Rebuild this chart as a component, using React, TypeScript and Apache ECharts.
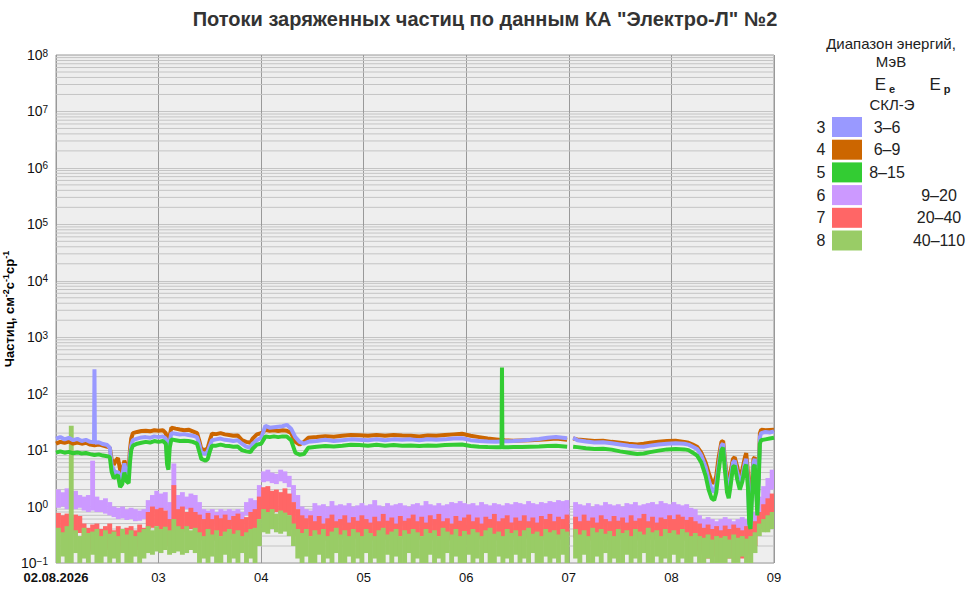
import { useEffect, useRef } from 'react';
import * as echarts from 'echarts';

const chartTitle = 'Потоки заряженных частиц по данным КА "Электро-Л" №2';
const yAxisTitle = 'Частиц, см{s|-2}с{s|-1}ср{s|-1}';
const dayLabels = ['02.08.2026', '03', '04', '05', '06', '07', '08', '09'];

const channelNums = ['3', '4', '5', '6', '7', '8'];
const channelColors = ['#9999ff', '#cc6600', '#33cc33', '#cc99ff', '#ff6666', '#99cc66'];
const electronRanges = ['3–6', '6–9', '8–15'];
const protonRanges = ['9–20', '20–40', '40–110'];

// electrons: [hours since 02.08 00:00, flux]
const e3Flux = [
  [0, 16], [1, 17], [2, 15.5], [3, 16.5], [4, 15], [5, 15.8], [6, 14.5], [7, 15.2], [8, 14], [8.9, 13.8], [9, 270], [9.1, 13.5],
  [10, 13.8], [11, 12.8], [12, 12.3], [12.6, 11], [13, 5.5], [13.5, 4.5], [14, 3.8], [14.5, 4.2], [15, 3], [15.5, 3.5], [16, 5.8],
  [16.5, 3.8], [17, 3.2], [17.3, 8], [17.6, 12], [18, 15], [19, 16], [20, 16.8], [21, 17], [22, 16.5], [23, 17.5], [24, 17], [25, 17.5],
  [25.7, 16], [26, 7], [26.3, 6], [26.6, 14], [27, 20], [28, 19.5], [29, 18.8], [30, 19.2], [31, 18.5], [32, 18], [33, 17], [33.6, 12],
  [34, 9], [35, 8.5], [35.5, 9.5], [36, 12], [36.5, 15], [37.5, 15.5], [38.5, 16], [39.5, 15.2], [40.5, 15], [41.5, 14.5], [42.5, 15],
  [43.5, 13], [44.5, 11.5], [45.5, 11], [46, 13], [47, 15], [48, 16.5], [48.5, 21], [49, 27], [50, 25], [51, 25.5], [52, 26], [53, 26.5],
  [54, 28], [55, 24], [56, 17], [57, 14], [58, 13], [59, 14], [61, 14.5], [63, 15.2], [65, 14.5], [67, 15], [69, 15.5], [71, 15.3],
  [73, 15], [75, 15.6], [77, 15], [79, 15.5], [81, 15.2], [83, 15.5], [85, 15], [87, 15.6], [89, 15.2], [91, 15.5], [93, 16], [95, 16.2],
  [97, 15], [99, 14.5], [101, 14.2], [103, 14], [105, 14.3], [107, 14.5], [109, 14.8], [111, 15.2], [113, 15.8], [115, 16.5], [117, 17],
  [119.6, 16.2], [120.2, '-'], [121, 16.5], [122, 15], [124, 14.2], [126, 13.6], [128, 13.8], [130, 13.2], [132, 12.6], [134, 12],
  [136, 11.6], [137.5, 11.5], [139, 12], [141, 12.6], [143, 13], [145, 13.2], [147, 13], [148, 12.5], [149, 11.5], [150, 10.5], [151, 8],
  [152, 5], [152.7, 3], [153.4, 2], [154, 1.8], [154.5, 2.5], [155, 5], [155.7, 12], [156.1, 13], [156.5, 6], [157, 2.5], [157.4, 1.7],
  [157.8, 3], [158.4, 6], [158.8, 6.5], [159.4, 4], [160, 2.6], [160.6, 3.5], [161.2, 6], [161.5, 7], [161.9, 3], [162.2, 0.6],
  [162.5, 0.45], [162.8, 1.5], [163.2, 6], [163.5, 7], [163.8, 2.5], [164.1, 0.9], [164.4, 3], [164.7, 17], [165, 20], [166, 21],
  [167, 20.5], [168, 21.5],
];

const e4Flux = [
  [0, 13], [1, 14], [2, 13.5], [3, 14.2], [4, 13], [5, 13.6], [6, 13], [7, 13.5], [8, 12.5], [9, 12.2], [10, 12.6], [11, 12], [12, 11.5],
  [12.6, 11], [13, 7], [13.5, 5.5], [14, 6.5], [14.5, 7.2], [15, 4.5], [15.5, 4], [16, 6.5], [16.5, 5], [17, 4.5], [17.3, 10], [17.6, 16],
  [18, 20], [19, 21], [20, 21.8], [21, 22], [22, 21.5], [23, 22.5], [24, 22], [25, 22.5], [25.7, 20], [26, 10], [26.3, 8], [26.6, 18],
  [27, 25], [28, 24], [29, 23.2], [30, 22.5], [31, 23], [32, 21.5], [33, 20], [33.6, 14], [34, 10.5], [35, 10], [35.5, 11], [36, 15],
  [36.5, 19.5], [37.5, 19.2], [38.5, 20], [39.5, 19], [40.5, 18.5], [41.5, 18], [42.5, 18.2], [43.5, 15], [44.5, 14], [45.5, 13.5],
  [46, 16], [47, 19], [48, 20], [48.5, 21], [49, 23], [50, 22], [51, 22.5], [52, 21.8], [53, 22.5], [54, 22], [55, 20], [56, 14],
  [57, 12.5], [58, 14], [59, 16.5], [61, 17], [63, 17.6], [65, 17.3], [67, 18], [69, 18.5], [71, 18.3], [73, 18], [75, 18.6], [77, 18],
  [79, 18.5], [81, 18.2], [83, 18], [85, 17.5], [87, 18.2], [89, 18], [91, 18.5], [93, 19], [95, 19.5], [97, 18], [99, 17], [101, 16],
  [103, 15.5], [105, 15], [107, 14.6], [109, 14.8], [111, 15], [113, 15.2], [115, 15.6], [117, 16], [119.6, 15.2], [120.2, '-'],
  [121, 16], [122, 15.5], [124, 15], [126, 14.5], [128, 14.6], [130, 14], [132, 13.5], [134, 13], [136, 12.6], [137.5, 13], [139, 13.5],
  [141, 14], [143, 14.5], [145, 14.6], [147, 14], [148, 13.5], [149, 12.5], [150, 11.5], [151, 9], [152, 6], [152.7, 4], [153.4, 2.8],
  [154, 2.6], [154.5, 3.5], [155, 7], [155.7, 14], [156.1, 14.5], [156.5, 7], [157, 3.2], [157.4, 2.4], [157.8, 4], [158.4, 7],
  [158.8, 7.5], [159.4, 5], [160, 3.2], [160.6, 4.5], [161.2, 7.5], [161.5, 8.8], [161.9, 4], [162.2, 1.2], [162.5, 0.9], [162.8, 2.5],
  [163.2, 7], [163.5, 7.5], [163.8, 3.5], [164.1, 1.3], [164.4, 4], [164.7, 20], [165, 23], [166, 22.5], [167, 22.8], [168, 23],
];

const e5Flux = [
  [0, 9], [1, 9.5], [2, 9], [3, 9.3], [4, 8.8], [5, 9.1], [6, 8.7], [7, 8.9], [8, 8.5], [9, 8.2], [10, 8.4], [11, 8], [12, 7.8],
  [12.6, 7.5], [13, 4.2], [13.5, 3.2], [14, 3.4], [14.5, 3.6], [15, 2.2], [15.5, 2.5], [16, 4], [16.5, 2.8], [17, 2.6], [17.3, 6],
  [17.6, 10], [18, 12], [19, 13], [20, 13.5], [21, 14], [22, 13.6], [23, 14.5], [24, 14], [25, 14.5], [25.7, 13], [26, 5.5], [26.3, 4.5],
  [26.6, 11], [27, 15.5], [28, 15], [29, 14.5], [30, 14.6], [31, 14.5], [32, 14], [33, 13], [33.6, 9], [34, 7], [35, 6.5], [35.5, 7],
  [36, 9.5], [36.5, 12], [37.5, 12], [38.5, 12.5], [39.5, 12], [40.5, 11.8], [41.5, 11.5], [42.5, 11.6], [43.5, 10], [44.5, 9.5],
  [45.5, 9.2], [46, 10.5], [47, 12.5], [48, 13], [48.5, 15], [49, 17.5], [50, 17], [51, 17.5], [52, 17], [53, 17.5], [54, 17.5], [55, 15],
  [56, 9], [57, 8.3], [58, 8.5], [59, 11], [61, 11.5], [63, 11.8], [65, 11.6], [67, 12], [69, 12.5], [71, 12.3], [73, 12], [75, 12.4],
  [77, 12], [79, 12.3], [81, 12], [83, 12.1], [85, 11.8], [87, 12.1], [89, 12], [91, 12.3], [93, 12.5], [95, 12.6], [97, 11.8],
  [99, 11.5], [101, 11.3], [103, 11.2], [104.25, 11.2], [104.35, 290], [104.45, 11.2], [105, 11.2], [107, 11.3], [109, 11.4],
  [111, 11.5], [113, 11.6], [115, 11.8], [117, 12], [119.6, 11.5], [120.2, '-'], [121, 11.5], [122, 11.3], [124, 10.8], [126, 10.5],
  [128, 10.6], [130, 10.2], [132, 9.5], [134, 9], [136, 8.5], [137.5, 8.7], [139, 9.2], [141, 9.8], [143, 10.3], [145, 10.5], [147, 10.3],
  [148, 10], [149, 9], [150, 8], [151, 6], [152, 3.5], [152.7, 2], [153.4, 1.4], [154, 1.3], [154.5, 1.8], [155, 4], [155.7, 10],
  [156.1, 11], [156.5, 4.5], [157, 1.8], [157.4, 1.4], [157.8, 2.2], [158.4, 5], [158.8, 5.3], [159.4, 3], [160, 2], [160.6, 2.8],
  [161.2, 5], [161.5, 5.5], [161.9, 2.2], [162.2, 0.5], [162.5, 0.4], [162.8, 1.2], [163.2, 5], [163.5, 5.5], [163.8, 2], [164.1, 0.7],
  [164.4, 2.5], [164.7, 13], [165, 15], [166, 15.5], [167, 16], [168, 16.5],
];

// protons: hourly spread (low / high) of the flux, one value per hour 0..167
const p6Lo = [
  0.95, 1.0, 0.9, 1.0, 0.9, 0.95, 0.85, 0.8, 0.85, 0.8, 0.8, 0.75,
  0.7, 0.65, 0.6, 0.62, 0.58, 0.6, 0.55, 0.56, 0.6, 0.7, 0.85, 0.9,
  0.8, 0.85, 0.3, 0.4, 0.85, 0.8, 0.9, 0.8, 0.75, 0.5, 0.5, 0.48,
  0.5, 0.45, 0.5, 0.48, 0.45, 0.47, 0.45, 0.5, 0.7, 0.8, 0.75, 1.4,
  2.7, 2.8, 2.6, 2.5, 2.8, 2.6, 2.2, 1.2, 0.9, 0.6, 0.5, 0.48,
  0.5, 0.47, 0.5, 0.45, 0.5, 0.48, 0.46, 0.5, 0.47, 0.45, 0.5, 0.48,
  0.46, 0.5, 0.48, 0.45, 0.47, 0.5, 0.46, 0.48, 0.5, 0.45, 0.47, 0.5,
  0.48, 0.45, 0.5, 0.47, 0.46, 0.5, 0.48, 0.45, 0.5, 0.47, 0.5, 0.48,
  0.47, 0.5, 0.45, 0.48, 0.5, 0.46, 0.47, 0.5, 0.45, 0.48, 0.47, 0.5,
  0.48, 0.46, 0.5, 0.47, 0.45, 0.5, 0.48, 0.5, 0.47, 0.5, 0.48, 0.5,
  null, 0.5, 0.47, 0.45, 0.5, 0.46, 0.48, 0.45, 0.5, 0.47, 0.45, 0.48,
  0.46, 0.5, 0.47, 0.5, 0.45, 0.48, 0.5, 0.47, 0.46, 0.5, 0.48, 0.45,
  0.5, 0.47, 0.46, 0.5, 0.45, 0.42, 0.35, 0.3, 0.32, 0.28, 0.3, 0.25,
  0.3, 0.28, 0.3, 0.32, 0.3, 0.28, 0.3, 0.35, 0.6, 0.9, 1.3, 2.0,
];
const p6Hi = [
  2.0, 1.8, 2.1, 1.7, 1.9, 1.6, 1.5, 1.6, 6.5, 1.5, 1.3, 1.4,
  1.2, 1.0, 0.95, 1.0, 0.9, 0.95, 0.9, 0.85, 0.9, 1.3, 1.6, 1.9,
  1.7, 1.8, 1.2, 5.8, 1.6, 1.8, 1.5, 1.7, 1.6, 1.2, 0.9, 0.85,
  0.9, 0.8, 0.9, 0.85, 0.9, 0.85, 0.9, 0.8, 1.2, 1.4, 1.3, 2.4,
  4.2, 4.5, 4.0, 3.8, 4.5, 4.2, 3.5, 2.4, 1.6, 1.0, 0.9, 0.85,
  1.15, 1.05, 1.1, 1.0, 1.25, 1.05, 1.1, 1.05, 1.15, 1.0, 1.05, 1.15,
  1.05, 1.1, 1.3, 1.05, 1.0, 1.15, 1.05, 1.1, 1.15, 1.05, 1.0, 1.1,
  1.15, 1.05, 1.25, 1.1, 1.05, 1.15, 1.05, 1.1, 1.2, 1.15, 1.25, 1.15,
  1.1, 1.15, 1.05, 1.2, 1.1, 1.05, 1.15, 1.1, 1.05, 1.15, 1.1, 1.2,
  1.15, 1.1, 1.25, 1.15, 1.1, 1.2, 1.15, 1.25, 1.2, 1.3, 1.25, 1.3,
  null, 1.2, 1.1, 1.05, 1.15, 1.0, 1.1, 1.05, 1.2, 1.1, 1.05, 1.1,
  1.0, 1.15, 1.1, 1.2, 1.05, 1.1, 1.15, 1.2, 1.1, 1.25, 1.15, 1.1,
  1.2, 1.1, 1.05, 1.1, 0.95, 0.9, 0.7, 0.6, 0.65, 0.6, 0.55, 0.6,
  0.65, 0.6, 0.55, 0.6, 0.65, 0.6, 0.7, 0.8, 1.5, 2.3, 3.2, 4.5,
];
const p7Lo = [
  0.35, 0.34, 0.38, 0.33, 0.36, 0.34, 0.2, 0.18, 0.16, 0.2, 0.15, 0.18,
  0.17, 0.15, 0.2, 0.16, 0.18, 0.15, 0.17, 0.2, 0.18, 0.4, 0.42, 0.45,
  0.4, 0.42, 0.2, 0.4, 0.38, 0.4, 0.35, 0.4, 0.37, 0.28, 0.25, 0.3,
  0.27, 0.25, 0.3, 0.28, 0.26, 0.3, 0.27, 0.25, 0.3, 0.28, 0.3, 0.6,
  0.8, 0.78, 0.77, 0.8, 0.75, 0.77, 0.7, 0.4, 0.3, 0.28, 0.27, 0.3,
  0.28, 0.26, 0.3, 0.25, 0.27, 0.3, 0.28, 0.26, 0.25, 0.3, 0.27, 0.28,
  0.3, 0.25, 0.27, 0.28, 0.26, 0.3, 0.25, 0.28, 0.3, 0.27, 0.25, 0.28,
  0.26, 0.3, 0.28, 0.25, 0.27, 0.3, 0.26, 0.28, 0.25, 0.3, 0.27, 0.26,
  0.28, 0.25, 0.3, 0.27, 0.26, 0.28, 0.3, 0.25, 0.27, 0.28, 0.3, 0.26,
  0.25, 0.28, 0.27, 0.3, 0.26, 0.25, 0.28, 0.3, 0.27, 0.26, 0.28, 0.3,
  null, 0.28, 0.26, 0.3, 0.25, 0.27, 0.28, 0.3, 0.26, 0.25, 0.28, 0.27,
  0.3, 0.26, 0.28, 0.25, 0.27, 0.3, 0.28, 0.26, 0.25, 0.28, 0.3, 0.27,
  0.26, 0.28, 0.3, 0.25, 0.24, 0.2, 0.16, 0.14, 0.12, 0.15, 0.13, 0.12,
  0.14, 0.12, 0.15, 0.13, 0.12, 0.14, 0.16, 0.2, 0.4, 0.5, 0.6, 0.7,
];
const p7Hi = [
  0.77, 0.7, 0.75, 0.62, 0.72, 0.68, 0.5, 0.42, 0.48, 0.5, 0.4, 0.45,
  0.5, 0.38, 0.45, 0.36, 0.42, 0.45, 0.38, 0.48, 0.42, 0.8, 1.0, 0.9,
  0.95, 0.85, 0.6, 2.4, 0.9, 1.0, 0.8, 0.95, 0.8, 0.72, 0.6, 0.77,
  0.6, 0.7, 0.62, 0.72, 0.58, 0.68, 0.75, 0.6, 0.65, 0.8, 0.9, 1.5,
  2.2, 2.3, 1.9, 2.0, 1.8, 2.1, 1.7, 1.2, 0.9, 0.7, 0.62, 0.7,
  0.55, 0.68, 0.5, 0.62, 0.72, 0.55, 0.6, 0.7, 0.52, 0.65, 0.56, 0.7,
  0.6, 0.52, 0.66, 0.55, 0.74, 0.56, 0.64, 0.5, 0.68, 0.56, 0.62, 0.72,
  0.55, 0.66, 0.52, 0.7, 0.6, 0.74, 0.55, 0.62, 0.5, 0.68, 0.56, 0.64,
  0.72, 0.55, 0.64, 0.5, 0.66, 0.6, 0.74, 0.55, 0.62, 0.7, 0.52, 0.64,
  0.56, 0.7, 0.55, 0.64, 0.52, 0.68, 0.6, 0.74, 0.55, 0.66, 0.6, 0.72,
  null, 0.66, 0.55, 0.72, 0.56, 0.64, 0.52, 0.7, 0.6, 0.55, 0.68, 0.56,
  0.64, 0.52, 0.7, 0.56, 0.62, 0.74, 0.55, 0.66, 0.52, 0.64, 0.6, 0.7,
  0.6, 0.72, 0.66, 0.58, 0.65, 0.55, 0.5, 0.42, 0.48, 0.4, 0.45, 0.38,
  0.46, 0.4, 0.48, 0.42, 0.38, 0.45, 0.5, 0.55, 0.8, 1.1, 1.4, 1.7,
];
const p8Lo = [
  0.1, 0.13, 0.1, 0.1, 0.15, 0.1, 0.12, 0.1, 0.14, 0.1, 0.1, 0.13,
  0.1, 0.12, 0.1, 0.15, 0.1, 0.1, 0.13, 0.1, 0.12, 0.15, 0.14, 0.16,
  0.15, 0.17, 0.14, 0.15, 0.16, 0.14, 0.15, 0.17, 0.15, 0.1, 0.12, 0.1,
  0.13, 0.1, 0.1, 0.14, 0.1, 0.12, 0.1, 0.15, 0.1, 0.12, 0.1, 0.2,
  0.35, 0.33, 0.4, 0.35, 0.33, 0.36, 0.3, 0.2, 0.12, 0.1, 0.13, 0.1,
  0.1, 0.14, 0.1, 0.12, 0.1, 0.15, 0.1, 0.1, 0.13, 0.1, 0.12, 0.1,
  0.15, 0.1, 0.12, 0.1, 0.1, 0.14, 0.1, 0.13, 0.1, 0.1, 0.15, 0.1,
  0.12, 0.1, 0.1, 0.14, 0.1, 0.12, 0.1, 0.15, 0.1, 0.13, 0.1, 0.1,
  0.14, 0.1, 0.12, 0.1, 0.15, 0.1, 0.1, 0.13, 0.1, 0.12, 0.1, 0.14,
  0.1, 0.12, 0.1, 0.15, 0.1, 0.1, 0.13, 0.1, 0.12, 0.1, 0.14, 0.1,
  null, 0.12, 0.1, 0.14, 0.1, 0.1, 0.13, 0.1, 0.15, 0.1, 0.12, 0.1,
  0.1, 0.14, 0.1, 0.12, 0.1, 0.15, 0.1, 0.1, 0.13, 0.1, 0.12, 0.1,
  0.14, 0.1, 0.12, 0.1, 0.1, 0.13, 0.1, 0.1, 0.12, 0.1, 0.1, 0.1,
  0.1, 0.12, 0.1, 0.1, 0.13, 0.1, 0.1, 0.15, 0.3, 0.35, 0.35, 0.4,
];
const p8Hi = [
  0.42, 0.35, 0.45, 27, 0.38, 0.3, 0.42, 0.34, 0.36, 0.4, 0.3, 0.38,
  0.33, 0.36, 0.3, 0.4, 0.32, 0.38, 0.3, 0.35, 0.4, 0.45, 0.38, 0.45,
  0.4, 0.44, 0.38, 0.6, 0.45, 0.4, 0.45, 0.38, 0.42, 0.35, 0.3, 0.4,
  0.32, 0.38, 0.3, 0.36, 0.4, 0.33, 0.38, 0.3, 0.35, 0.4, 0.42, 0.6,
  0.9, 0.8, 0.9, 0.75, 0.85, 0.78, 0.7, 0.5, 0.4, 0.34, 0.4, 0.3,
  0.38, 0.32, 0.4, 0.3, 0.36, 0.42, 0.32, 0.38, 0.3, 0.4, 0.35, 0.3,
  0.4, 0.34, 0.3, 0.38, 0.42, 0.32, 0.36, 0.4, 0.3, 0.38, 0.33, 0.4,
  0.35, 0.3, 0.4, 0.34, 0.38, 0.3, 0.42, 0.36, 0.32, 0.4, 0.3, 0.37,
  0.32, 0.4, 0.35, 0.3, 0.38, 0.42, 0.33, 0.36, 0.3, 0.4, 0.34, 0.38,
  0.3, 0.38, 0.42, 0.33, 0.36, 0.3, 0.4, 0.35, 0.38, 0.32, 0.4, 0.36,
  null, 0.4, 0.32, 0.38, 0.3, 0.42, 0.35, 0.4, 0.33, 0.37, 0.3, 0.4,
  0.34, 0.38, 0.3, 0.4, 0.36, 0.32, 0.42, 0.35, 0.38, 0.3, 0.4, 0.34,
  0.38, 0.32, 0.4, 0.35, 0.3, 0.34, 0.3, 0.28, 0.32, 0.26, 0.3, 0.28,
  0.3, 0.26, 0.32, 0.28, 0.3, 0.27, 0.3, 0.35, 0.5, 0.6, 0.7, 0.8,
];

const FONT = '"Liberation Sans", Arial, sans-serif';

const toBand = (lo: (number | null)[], hi: (number | null)[]) =>
  lo.map((v, i) => [i, v, hi[i]]).filter((d) => d[1] != null && d[2] != null);

// gray minor lines at 2..9 of every decade
const minorLevels: number[][] = [];
for (let d = -1; d < 8; d++) {
  for (let m = 2; m <= 9; m++) minorLevels.push([0, m * Math.pow(10, d)]);
}

const bandSeries = (name: string, color: string, lo: any[], hi: any[]) => ({
  name,
  type: 'custom',
  data: toBand(lo, hi),
  encode: { x: 0, y: [1, 2] },
  silent: true,
  renderItem: (params: any, api: any) => {
    const t = api.value(0);
    const top = api.coord([t, api.value(2)]);
    const bot = api.coord([t + 1, api.value(1)]);
    const cs = params.coordSys;
    const shape = echarts.graphic.clipRectByRect(
      { x: top[0], y: top[1], width: bot[0] - top[0] + 0.6, height: bot[1] - top[1] },
      { x: cs.x, y: cs.y, width: cs.width, height: cs.height }
    );
    if (!shape) return null;
    return { type: 'rect', shape, style: { fill: color } };
  },
});

const lineSeries = (name: string, color: string, data: any[]) => ({
  name,
  type: 'line',
  data,
  symbol: 'none',
  connectNulls: false,
  silent: true,
  lineStyle: { color, width: 4 },
});

const legendGraphic = () => {
  const txt = (x: number, y: number, text: string, extra: any = {}) => ({
    type: 'text',
    x,
    y,
    silent: true,
    style: {
      text,
      x: 0,
      y: 0,
      font: `15px ${FONT}`,
      fill: '#222',
      align: 'center',
      verticalAlign: 'middle',
      textAlign: 'center',
      textVerticalAlign: 'middle',
      ...extra,
    },
  });
  const sub = {
    rich: {
      m: { fontSize: 17, fontFamily: FONT, fill: '#222', color: '#222' },
      sb: { fontSize: 11, fontWeight: 'bold', fontFamily: FONT, fill: '#222', color: '#222', padding: [9, 0, 0, 3] },
    },
  };
  const els: any[] = [
    txt(891, 43, 'Диапазон энергий,'),
    txt(891, 61, 'МэВ'),
    txt(885, 84, '{m|E}{sb|e}', sub),
    txt(940, 84, '{m|E}{sb|p}', sub),
    txt(892, 104, 'СКЛ-Э'),
  ];
  channelNums.forEach((n, i) => {
    const y = 127 + i * 22.7;
    els.push(txt(821, y, n, { font: `16px ${FONT}` }));
    els.push({
      type: 'rect',
      silent: true,
      shape: { x: 832, y: y - 10, width: 30, height: 20 },
      style: { fill: channelColors[i] },
    });
    const label = i < 3 ? electronRanges[i] : protonRanges[i - 3];
    els.push(txt(i < 3 ? 887 : 939, y, label, { font: `16px ${FONT}` }));
  });
  return els;
};

const App = () => {
  const chartRef = useRef<HTMLDivElement>(null);

  useEffect(() => {
    if (!chartRef.current) return;
    const chart = echarts.init(chartRef.current, null, { renderer: 'svg' });

    const option = {
      animation: false,
      backgroundColor: '#ffffff',
      textStyle: { fontFamily: FONT },
      title: {
        text: chartTitle,
        left: 'center',
        top: 4,
        textStyle: { fontSize: 20, fontWeight: 'bold', color: '#333', fontFamily: FONT },
      },
      grid: {
        left: 56,
        right: 196,
        top: 55,
        bottom: 37,
        containLabel: false,
        outerBoundsMode: 'none',
        show: true,
        backgroundColor: '#eeeeee',
        borderColor: '#999',
        borderWidth: 1,
      },
      xAxis: {
        type: 'value',
        min: 0,
        max: 168,
        interval: 24,
        axisLine: { show: false },
        axisTick: { show: false },
        splitLine: { show: true, lineStyle: { color: '#999', width: 1 } },
        axisLabel: {
          color: '#111',
          fontSize: 13,
          margin: 8,
          formatter: (v: number) => {
            const i = Math.round(v / 24);
            return i === 0 ? `{b|${dayLabels[0]}}` : dayLabels[i];
          },
          rich: { b: { fontWeight: 'bold', fontSize: 13, color: '#111', fontFamily: FONT } },
        },
      },
      yAxis: {
        type: 'log',
        logBase: 10,
        min: 0.1,
        max: 1e8,
        splitNumber: 9,
        axisLine: { show: false },
        axisTick: { show: false },
        splitLine: { show: true, lineStyle: { color: '#c4c4c4', width: 1 } },
        axisLabel: {
          color: '#111',
          fontSize: 14,
          margin: 8,
          formatter: (v: number) => {
            const p = Math.round(Math.log10(v));
            return `10{s|${p < 0 ? '−' + -p : p}}`;
          },
          rich: {
            s: { fontSize: 10, color: '#111', verticalAlign: 'top', lineHeight: 10, padding: [0, 0, 7, 0] },
          },
        },
        name: yAxisTitle,
        nameLocation: 'middle',
        nameGap: 39,
        nameMoveOverlap: false,
        nameRotate: 90,
        nameTextStyle: {
          fontSize: 13,
          fontWeight: 'bold',
          color: '#000',
          rich: {
            s: { fontSize: 9, fontWeight: 'bold', color: '#000', padding: [0, 0, 7, 0] },
          },
        },
      },
      graphic: legendGraphic(),
      series: [
        {
          name: 'minor',
          type: 'custom',
          data: minorLevels,
          encode: { x: 0, y: 1 },
          silent: true,
          z: 1,
          renderItem: (params: any, api: any) => {
            const y = api.coord([0, api.value(1)])[1];
            const cs = params.coordSys;
            return {
              type: 'line',
              shape: { x1: cs.x, y1: y, x2: cs.x + cs.width, y2: y },
              style: { stroke: '#c4c4c4', lineWidth: 1 },
            };
          },
        },
        bandSeries('6', channelColors[3], p6Lo, p6Hi),
        bandSeries('7', channelColors[4], p7Lo, p7Hi),
        bandSeries('8', channelColors[5], p8Lo, p8Hi),
        lineSeries('4', channelColors[1], e4Flux),
        lineSeries('3', channelColors[0], e3Flux),
        lineSeries('5', channelColors[2], e5Flux),
      ],
    };

    chart.setOption(option as any);
    return () => {
      chart.dispose();
    };
  }, []);

  return (
    <div
      ref={chartRef}
      style={{ position: 'absolute', left: 0, top: 0, width: '970px', height: '600px' }}
    />
  );
};

export default App;
